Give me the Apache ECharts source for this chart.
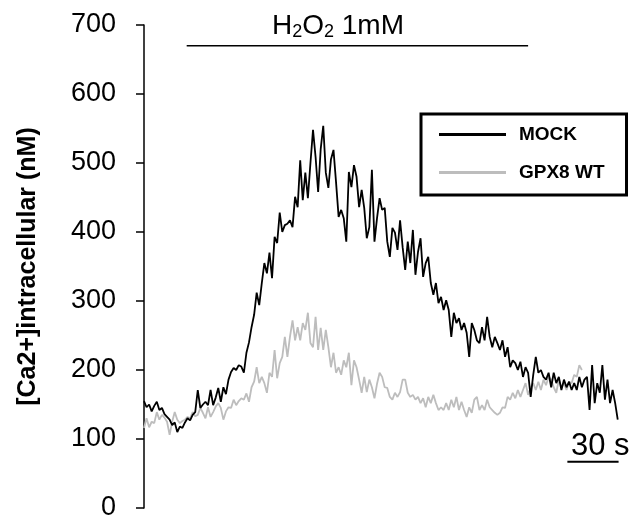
<!DOCTYPE html>
<html>
<head>
<meta charset="utf-8">
<script src="https://cdn.jsdelivr.net/npm/echarts@6/dist/echarts.min.js"></script>
<style>
  html, body { margin: 0; padding: 0; background: #fff; }
  #chart { width: 642px; height: 527px; }
</style>
</head>
<body>
<div id="chart"></div>
<script>
// sampling step of the traces (s)
const dt = 1.5;

// [Ca2+]i, nM - MOCK cells
const mockCa = [
  155, 146, 150, 140, 148, 154, 142, 145, 136, 132, 128, 120, 124, 110, 118, 116, 124, 130, 127, 135,
  139, 171, 145, 150, 154, 149, 171, 149, 160, 174, 154, 175, 165, 186, 197, 203, 200, 207, 205, 196,
  225, 240, 262, 280, 312, 294, 326, 355, 340, 370, 333, 393, 384, 428, 400, 410, 412, 417, 407, 451,
  436, 504, 446, 486, 449, 500, 548, 509, 458, 520, 554, 486, 464, 505, 519, 472, 422, 432, 420, 386,
  487, 465, 497, 480, 436, 461, 435, 391, 407, 490, 386, 420, 449, 432, 435, 386, 364, 406, 399, 374,
  417, 378, 345, 386, 355, 403, 338, 371, 391, 335, 355, 364, 326, 309, 326, 297, 306, 287, 301, 287,
  248, 283, 268, 275, 258, 268, 254, 219, 268, 258, 243, 239, 262, 243, 277, 248, 233, 248, 239, 229,
  243, 219, 233, 204, 214, 210, 200, 212, 190, 204, 196, 161, 193, 219, 196, 200, 190, 186, 196, 175,
  196, 181, 190, 171, 186, 175, 183, 171, 181, 171, 190, 175, 186, 190, 142, 207, 152, 181, 167, 207,
  157, 186, 152, 171, 152, 128
];

// [Ca2+]i, nM - GPX8 WT cells
const gpx8Ca = [
  116, 130, 117, 125, 123, 139, 128, 135, 131, 125, 106, 125, 139, 128, 123, 126, 128, 132, 130, 139,
  133, 135, 145, 138, 130, 146, 132, 139, 147, 152, 145, 128, 140, 146, 145, 157, 149, 155, 159, 157,
  166, 154, 175, 183, 204, 181, 190, 181, 167, 196, 190, 229, 188, 210, 219, 248, 219, 248, 272, 243,
  262, 243, 268, 258, 283, 239, 233, 277, 229, 261, 229, 258, 233, 204, 225, 196, 204, 193, 214, 204,
  225, 178, 214, 204, 186, 167, 190, 168, 186, 175, 159, 180, 196, 190, 175, 174, 161, 157, 167, 161,
  168, 186, 186, 167, 161, 164, 157, 161, 152, 159, 146, 161, 152, 164, 152, 142, 146, 142, 152, 142,
  157, 146, 161, 142, 154, 142, 132, 146, 138, 157, 161, 142, 149, 142, 157, 146, 142, 138, 135, 138,
  146, 145, 161, 157, 167, 159, 171, 161, 171, 181, 164, 175, 181, 171, 183, 171, 186, 178, 190, 186,
  175, 167, 186, 175, 181, 171, 183, 181, 193, 190, 207, 200
];

const seriesNames = ['MOCK', 'GPX8 WT'];
const yTicks = [0, 700, 100]; // min, max, step

// H2O2 application (s) and its marker level
const stimTime = [25, 225];
const stimLevel = 670;
// 30 s scale bar
const barTime = [248, 278];
const barLevel = 67;

const font = 'Liberation Sans, Arial, sans-serif';

const toXY = (arr) => arr.map((v, i) => [i * dt, v]);

const chart = echarts.init(document.getElementById('chart'));

chart.setOption({
  animation: false,
  backgroundColor: '#fff',
  title: [
    {
      text: '{a|H}{s|2}{a|O}{s|2}{a| 1mM}',
      left: 267,
      top: 6,
      textStyle: {
        rich: {
          a: { fontFamily: font, fontSize: 28, fontWeight: 'normal', color: '#000', lineHeight: 30 },
          s: { fontFamily: font, fontSize: 18, fontWeight: 'normal', color: '#000', lineHeight: 30, verticalAlign: 'bottom', padding: [12, 0, 0, 0] }
        }
      }
    },
    {
      text: '30 s',
      left: 566,
      top: 426,
      textStyle: { fontFamily: font, fontSize: 31, fontWeight: 'normal', color: '#000' }
    }
  ],
  legend: {
    orient: 'vertical',
    left: 421,
    top: 114,
    data: seriesNames,
    padding: [11, 22, 13, 18],
    itemWidth: 67,
    itemHeight: 3,
    itemGap: 19,
    icon: 'rect',
    borderColor: '#000',
    borderWidth: 3,
    textStyle: {
      fontFamily: font,
      fontSize: 19,
      fontWeight: 'bold',
      color: '#000',
      padding: [0, 0, 0, 8]
    }
  },
  grid: { left: 144, right: 20, top: 25, bottom: 19 },
  xAxis: {
    type: 'value',
    min: 0,
    max: 280,
    show: false
  },
  yAxis: {
    type: 'value',
    min: yTicks[0],
    max: yTicks[1],
    interval: yTicks[2],
    name: '[Ca2+]intracellular (nM)',
    nameLocation: 'middle',
    nameGap: 103,
    nameTextStyle: { fontFamily: font, fontSize: 25, fontWeight: 'bold', color: '#000' },
    axisLine: { show: true, lineStyle: { color: '#000', width: 1.5 } },
    axisTick: { show: true, length: 8, lineStyle: { color: '#000', width: 1.5 } },
    axisLabel: { fontFamily: font, fontSize: 27, color: '#000', margin: 28 },
    splitLine: { show: false }
  },
  series: [
    {
      name: seriesNames[1],
      type: 'line',
      data: toXY(gpx8Ca),
      showSymbol: false,
      symbol: 'none',
      color: '#bdbdbd',
      lineStyle: { color: '#bdbdbd', width: 1.8 },
      z: 2
    },
    {
      name: seriesNames[0],
      type: 'line',
      data: toXY(mockCa),
      showSymbol: false,
      symbol: 'none',
      color: '#000',
      lineStyle: { color: '#000', width: 1.8 },
      z: 3
    },
    {
      name: 'stim',
      type: 'line',
      data: stimTime.map((t) => [t, stimLevel]),
      symbol: 'none',
      lineStyle: { color: '#000', width: 1.5 },
      silent: true
    },
    {
      name: 'bar',
      type: 'line',
      data: barTime.map((t) => [t, barLevel]),
      symbol: 'none',
      lineStyle: { color: '#000', width: 2 },
      silent: true
    }
  ]
});
</script>
</body>
</html>
